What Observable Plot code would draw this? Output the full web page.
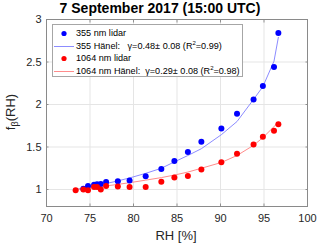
<!DOCTYPE html>
<html><head><meta charset="utf-8">
<script src="https://cdn.jsdelivr.net/npm/d3@7"></script>
<script src="https://cdn.jsdelivr.net/npm/@observablehq/plot@0.6"></script>
<style>
body{margin:0;background:#fff;font-family:"Liberation Sans",Arial,sans-serif;}
#wrap{position:relative;width:320px;height:246px;overflow:hidden;}
#title{position:absolute;left:0;top:0;width:320px;text-align:center;font-weight:bold;font-size:14px;line-height:16px;color:#000;}
#legend{position:absolute;left:52px;top:24px;width:191px;height:53px;border:1px solid #a6a6a6;background:#fff;font-size:9.1px;color:#000;box-sizing:border-box;}
.row{position:absolute;left:0;height:13px;line-height:13px;white-space:nowrap;}
.sym{position:absolute;left:0;top:0;width:22px;height:13px;}
.lab{position:absolute;left:23px;top:0;}
</style></head>
<body><div id="wrap"><div id="title">7 September 2017 (15:00 UTC)</div></div>
<script>
const rh = [73.35,74.24,74.77,75.47,75.81,76.24,76.85,78.2,79.55,81.4,83.2,84.7,86.25,87.8,90.1,91.9,93.8,94.87,96.15,96.65];
const blueRH = rh.slice(1);
const blueF = [1.01,1.04,1.056,1.063,1.065,1.087,1.097,1.107,1.155,1.24,1.335,1.44,1.563,1.717,1.89,2.06,2.218,2.44,2.84];
const redF = [0.99,1.0,0.99,1.03,1.03,1.0,1.04,1.035,1.03,1.03,1.09,1.14,1.16,1.236,1.32,1.42,1.53,1.62,1.69,1.768];
const blueFit = [1.0,1.016,1.027,1.041,1.048,1.057,1.07,1.101,1.136,1.19,1.25,1.325,1.40,1.48,1.645,1.80,2.06,2.21,2.51,2.79];
const redFit = [1.0,1.01,1.016,1.024,1.028,1.034,1.042,1.06,1.08,1.11,1.14,1.17,1.205,1.25,1.318,1.40,1.52,1.61,1.74,1.79];
const xTicks = [70,75,80,85,90,95,100];
const yTicks = [1,1.5,2,2.5,3];
const legendLabels = ["355 nm lidar","355 Hänel:&nbsp;&nbsp;&nbsp;γ=0.48± 0.08 (R<sup>2</sup>=0.99)","1064 nm lidar","1064 nm Hänel:&nbsp;&nbsp;γ=0.29± 0.08 (R<sup>2</sup>=0.98)"];

const blue = blueRH.map((x,i)=>({x,y:blueF[i]}));
const red = rh.map((x,i)=>({x,y:redF[i]}));
const bfit = rh.map((x,i)=>({x,y:blueFit[i]}));
const rfit = rh.map((x,i)=>({x,y:redFit[i]}));

const tk = {text:null,tickSize:-2.5,stroke:"#555",strokeWidth:0.6};
const plot = Plot.plot({
  width:320,height:246,
  marginLeft:46,marginRight:13,marginTop:19,marginBottom:40,
  style:{fontFamily:"Liberation Sans, Arial, sans-serif",fontSize:"11px",color:"#262626",background:"#fff"},
  x:{domain:[70,100],ticks:xTicks,label:null},
  y:{domain:[0.8,3],ticks:yTicks,label:null},
  marks:[
    Plot.gridX(xTicks,{stroke:"#e5e5e5",strokeOpacity:1}),
    Plot.gridY(yTicks,{stroke:"#e5e5e5",strokeOpacity:1}),
    Plot.axisX(xTicks,{tickSize:0,tickPadding:8,fontSize:11,fill:"#262626"}),
    Plot.axisY(yTicks,{tickSize:0,tickPadding:5,fontSize:11,fill:"#262626",tickFormat:d=>String(d)}),
    Plot.axisX(xTicks,{...tk,anchor:"bottom"}),
    Plot.axisX(xTicks,{...tk,anchor:"top"}),
    Plot.axisY(yTicks,{...tk,anchor:"left"}),
    Plot.axisY(yTicks,{...tk,anchor:"right"}),
    Plot.line(bfit,{x:"x",y:"y",stroke:"#8c8cff",strokeWidth:1}),
    Plot.line(rfit,{x:"x",y:"y",stroke:"#ff8c8c",strokeWidth:1}),
    Plot.dot(blue,{x:"x",y:"y",r:3,fill:"#0000ff",stroke:"none"}),
    Plot.dot(red,{x:"x",y:"y",r:3,fill:"#ff0000",stroke:"none"}),
    Plot.frame({stroke:"#8a8a8a",strokeWidth:1})
  ]
});
const wrap = document.getElementById("wrap");
plot.style.position="absolute";plot.style.left="0";plot.style.top="0";
wrap.appendChild(plot);
const svg = d3.select(plot);
svg.append("text").attr("x",176).attr("y",240).attr("text-anchor","middle")
  .attr("font-size",13).attr("fill","#262626").text("RH [%]");
const yl = svg.append("text").attr("transform","translate(15,112) rotate(-90)").attr("text-anchor","middle")
  .attr("font-size",13).attr("fill","#262626");
yl.append("tspan").text("f");
yl.append("tspan").attr("font-size",9).attr("dy",3).text("β");
yl.append("tspan").attr("dy",-3).text("(RH)");
wrap.appendChild(document.getElementById("title"));
const leg = document.createElement("div");leg.id="legend";wrap.appendChild(leg);
const colors=["#0000ff","#8c8cff","#ff0000","#ff8c8c"];
legendLabels.forEach((t,i)=>{
  const r=document.createElement("div");r.className="row";r.style.top=(2+i*12.7)+"px";r.style.width="188px";
  const s=document.createElement("div");s.className="sym";
  if(i%2===0){s.innerHTML=`<svg width="22" height="13"><circle cx="11" cy="6.5" r="2.6" fill="${colors[i]}"/></svg>`;}
  else{s.innerHTML=`<svg width="22" height="13"><line x1="1" x2="21" y1="6.5" y2="6.5" stroke="${colors[i]}" stroke-width="1"/></svg>`;}
  const l=document.createElement("div");l.className="lab";l.innerHTML=t.replace("<sup>","<sup style='font-size:6px;vertical-align:4px;line-height:0'>");
  r.appendChild(s);r.appendChild(l);leg.appendChild(r);
});
</script></body></html>
